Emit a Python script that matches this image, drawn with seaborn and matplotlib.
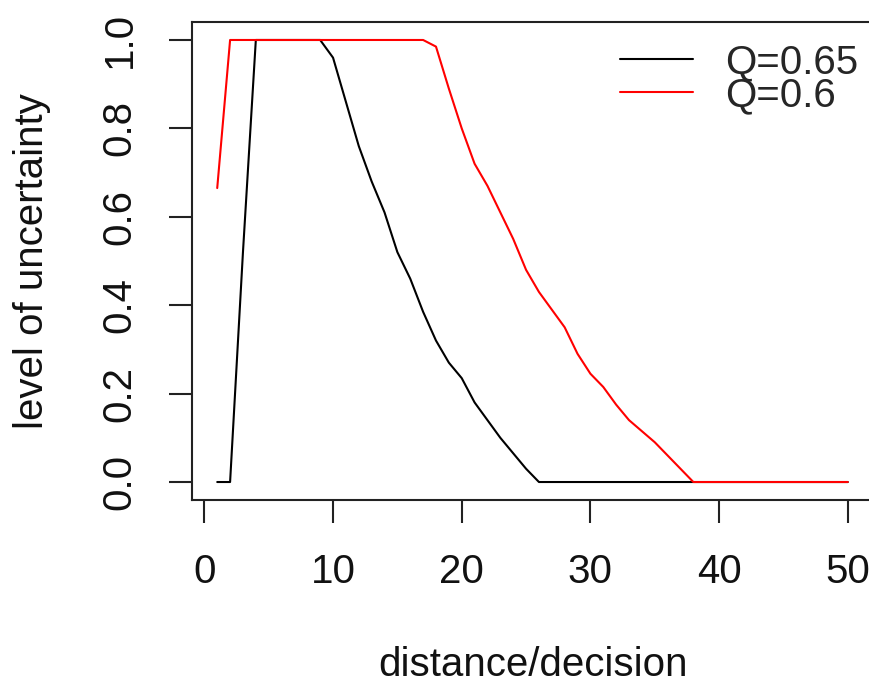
import numpy as np
import pandas as pd
import matplotlib
matplotlib.use("Agg")
import matplotlib.pyplot as plt
import seaborn as sns

# decision steps along the x axis
distance = list(range(1, 51))

# uncertainty level per step for each threshold Q
q065 = [0.0, 0.0, 0.52, 1.0, 1.0, 1.0, 1.0, 1.0, 1.0, 0.96,
        0.86, 0.76, 0.68, 0.61, 0.52, 0.46, 0.385, 0.32, 0.27, 0.235,
        0.18, 0.14, 0.10, 0.065, 0.03, 0.0, 0.0, 0.0, 0.0, 0.0,
        0.0, 0.0, 0.0, 0.0, 0.0, 0.0, 0.0, 0.0, 0.0, 0.0,
        0.0, 0.0, 0.0, 0.0, 0.0, 0.0, 0.0, 0.0, 0.0, 0.0]
q060 = [0.665, 1.0, 1.0, 1.0, 1.0, 1.0, 1.0, 1.0, 1.0, 1.0,
        1.0, 1.0, 1.0, 1.0, 1.0, 1.0, 1.0, 0.985, 0.89, 0.80,
        0.72, 0.67, 0.61, 0.55, 0.48, 0.43, 0.39, 0.35, 0.29, 0.245,
        0.215, 0.175, 0.14, 0.115, 0.09, 0.06, 0.03, 0.0, 0.0, 0.0,
        0.0, 0.0, 0.0, 0.0, 0.0, 0.0, 0.0, 0.0, 0.0, 0.0]

series_labels = ["Q=0.65", "Q=0.6"]
series_colors = ["black", "red"]

x_ticks = [0, 10, 20, 30, 40, 50]
y_ticks = [0.0, 0.2, 0.4, 0.6, 0.8, 1.0]
y_tick_labels = ["0.0", "0.2", "0.4", "0.6", "0.8", "1.0"]

df = pd.DataFrame({
    "distance": distance * 2,
    "uncertainty": q065 + q060,
    "Q": [series_labels[0]] * len(distance) + [series_labels[1]] * len(distance),
})

sns.set_style("white")
plt.rcParams["font.family"] = ["Liberation Sans", "DejaVu Sans"]

W, H = 869, 685
fig = plt.figure(figsize=(W / 100, H / 100), dpi=100)
# plot region in pixel terms (right edge runs just past the canvas)
left_px, right_px, top_px, bottom_px = 192, 873, 22.3, 499.7
ax = fig.add_axes([left_px / W, 1 - bottom_px / H,
                   (right_px - left_px) / W, (bottom_px - top_px) / H])

sns.lineplot(data=df, x="distance", y="uncertainty", hue="Q",
             hue_order=series_labels,
             palette=dict(zip(series_labels, series_colors)),
             linewidth=1.5, errorbar=None, ax=ax)

# R-style padded limits
n_lo, n_hi = 1, 50
pad = 0.04 * (n_hi - n_lo)
ax.set_xlim(n_lo - pad, n_hi + pad)
ax.set_ylim(-0.04, 1.04)

ax.set_xticks(x_ticks)
ax.set_xticklabels([str(t) for t in x_ticks])
ax.set_yticks(y_ticks)
ax.set_yticklabels(y_tick_labels, rotation=90, va="center")

fs = 29
ax.tick_params(axis="both", which="both", direction="out", length=16.5,
               width=1.5, color="#222222", labelsize=fs, pad=22,
               labelcolor="#111111", bottom=True, left=True)
for s in ax.spines.values():
    s.set_visible(True)
    s.set_color("#222222")
    s.set_linewidth(1.5)

ax.set_xlabel("distance/decision", fontsize=fs, color="#111111")
ax.set_ylabel("level of uncertainty", fontsize=fs, color="#111111")
ax.xaxis.set_label_coords(0.5, (bottom_px - 665) / (bottom_px - top_px))
ax.xaxis.label.set_va("center")
ax.yaxis.set_label_coords((32 - left_px) / (right_px - left_px), 0.5)
ax.yaxis.label.set_va("center")

handles, labels = ax.get_legend_handles_labels()
leg = ax.legend(handles, labels, loc="upper left", frameon=False,
                bbox_to_anchor=((620 - left_px) / (right_px - left_px),
                                (bottom_px - 43) / (bottom_px - top_px)),
                borderpad=0, handlelength=1.8, handletextpad=0.8,
                labelspacing=-0.12, fontsize=fs, borderaxespad=0)
for line in leg.get_lines():
    line.set_linewidth(1.5)

fig.savefig("out.png", dpi=100)
